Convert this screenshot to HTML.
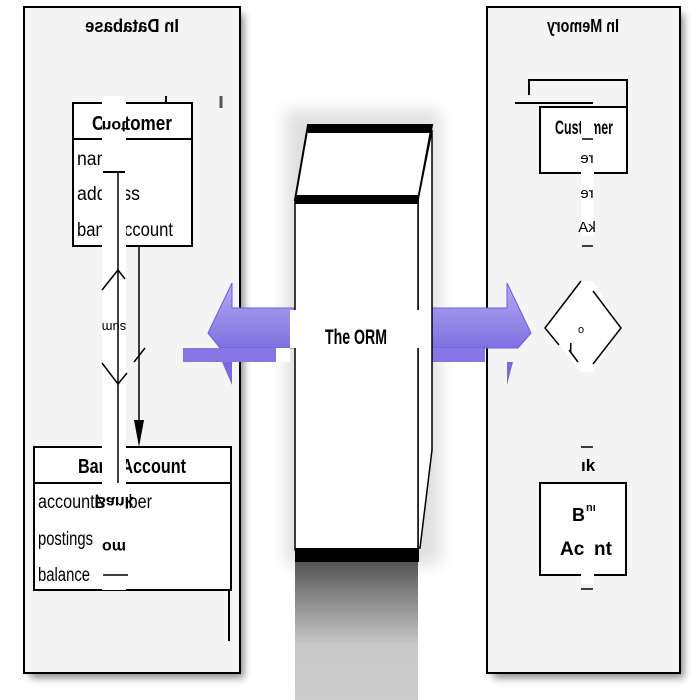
<!DOCTYPE html>
<html><head><meta charset="utf-8"><style>
html,body{margin:0;padding:0;background:#fff;}
svg{display:block;}
text{font-family:"Liberation Sans",Arial,sans-serif;}
</style></head><body>
<svg width="700" height="700" viewBox="0 0 700 700" xmlns="http://www.w3.org/2000/svg">
<defs>
<linearGradient id="sh" x1="0" y1="0" x2="0" y2="1">
<stop offset="0" stop-color="#555"/><stop offset="0.6" stop-color="#c8c8c8"/><stop offset="1" stop-color="#ccc"/>
</linearGradient>
<linearGradient id="ar" x1="0" y1="0" x2="0" y2="1">
<stop offset="0" stop-color="#b4aaf0"/><stop offset="1" stop-color="#8070e0"/>
</linearGradient>
<filter id="ds" x="-10%" y="-10%" width="130%" height="130%"><feGaussianBlur stdDeviation="4"/></filter>
<filter id="ds2" x="-20%" y="-20%" width="140%" height="140%"><feGaussianBlur stdDeviation="8"/></filter>
</defs>

<!-- panel shadows -->
<rect x="30" y="14" width="214" height="664" fill="#000" opacity="0.45" filter="url(#ds)"/>
<rect x="493" y="14" width="191" height="664" fill="#000" opacity="0.45" filter="url(#ds)"/>

<!-- Left panel -->
<rect x="24" y="7" width="216" height="666" fill="#f4f4f4" stroke="#000" stroke-width="2"/>
<text transform="translate(132,32) scale(-1,1)" text-anchor="middle" font-size="18" font-weight="bold" textLength="94" lengthAdjust="spacingAndGlyphs">In Database</text>
<line x1="166" y1="96" x2="166" y2="108" stroke="#000" stroke-width="2"/>
<line x1="221" y1="96" x2="221" y2="108" stroke="#555" stroke-width="3"/>

<!-- Customer box -->
<rect x="73" y="103" width="119" height="143" fill="#fff" stroke="#000" stroke-width="2"/>
<line x1="73" y1="139" x2="192" y2="139" stroke="#000" stroke-width="2"/>
<text x="92" y="130" font-size="20" font-weight="bold" textLength="80" lengthAdjust="spacingAndGlyphs">Customer</text>
<text x="77" y="165" font-size="19" textLength="44" lengthAdjust="spacingAndGlyphs">name</text>
<text x="77" y="200" font-size="19" textLength="63" lengthAdjust="spacingAndGlyphs">address</text>
<text x="77" y="236" font-size="19" textLength="96" lengthAdjust="spacingAndGlyphs">bankAccount</text>

<!-- BankAccount box -->
<rect x="34" y="447" width="197" height="143" fill="#fff" stroke="#000" stroke-width="2"/>
<line x1="34" y1="483" x2="231" y2="483" stroke="#000" stroke-width="2"/>
<line x1="229" y1="590" x2="229" y2="641" stroke="#000" stroke-width="2"/>
<text x="78" y="473" font-size="20" font-weight="bold" textLength="108" lengthAdjust="spacingAndGlyphs">Bank Account</text>
<text x="38" y="508" font-size="19" textLength="114" lengthAdjust="spacingAndGlyphs">accountNumber</text>
<text x="38" y="545" font-size="19" textLength="55" lengthAdjust="spacingAndGlyphs">postings</text>
<text x="38" y="581" font-size="19" textLength="52" lengthAdjust="spacingAndGlyphs">balance</text>

<!-- white strip glitch -->
<rect x="102" y="96" width="24" height="494" fill="#fff"/>
<text transform="translate(114,121) scale(1,-1)" text-anchor="middle" font-size="16" font-weight="bold">not</text>
<line x1="103" y1="172" x2="125" y2="172" stroke="#000" stroke-width="2"/>
<line x1="118" y1="172" x2="118" y2="447" stroke="#000" stroke-width="1.5"/>
<polyline points="102,290 118,270 125,279" fill="none" stroke="#000" stroke-width="1.5"/>
<polyline points="102,363 118,384 127,373" fill="none" stroke="#000" stroke-width="1.5"/>
<text transform="translate(114,323) scale(-1,-1)" text-anchor="middle" font-size="13">sum</text>
<rect x="102" y="483" width="24" height="106" fill="#fff"/>
<line x1="118" y1="447" x2="118" y2="483" stroke="#000" stroke-width="1.5"/>
<text transform="translate(114,497) scale(1,-1)" text-anchor="middle" font-size="16" font-weight="bold">Bank</text>
<text transform="translate(114,542) scale(-1,-1)" text-anchor="middle" font-size="16" font-weight="bold">mo</text>
<line x1="103" y1="575" x2="128" y2="575" stroke="#000" stroke-width="1.5"/>
<line x1="139" y1="246" x2="139" y2="425" stroke="#000" stroke-width="1.5"/>
<polygon points="134,420 144,420 139,447" fill="#000"/>
<line x1="134" y1="362" x2="145" y2="348" stroke="#000" stroke-width="1.5"/>

<!-- Right panel -->
<rect x="487" y="7" width="193" height="666" fill="#f4f4f4" stroke="#000" stroke-width="2"/>
<text transform="translate(583,32) scale(-1,1)" text-anchor="middle" font-size="18" font-weight="bold" textLength="72" lengthAdjust="spacingAndGlyphs">In Memory</text>
<polyline points="529,95 529,80 627,80 627,107" fill="none" stroke="#000" stroke-width="2"/>
<line x1="515" y1="103" x2="593" y2="103" stroke="#000" stroke-width="2"/>
<rect x="540" y="107" width="87" height="66" fill="#fff" stroke="#000" stroke-width="2"/>
<text x="555" y="134" font-size="19" font-weight="bold" textLength="58" lengthAdjust="spacingAndGlyphs">Customer</text>
<rect x="581" y="118" width="13" height="118" fill="#fff"/>
<line x1="582" y1="139" x2="593" y2="139" stroke="#000" stroke-width="1.5"/>
<text transform="translate(587,163) scale(-1,1)" text-anchor="middle" font-size="15">re</text>
<text transform="translate(587,198) scale(-1,1)" text-anchor="middle" font-size="15">re</text>
<text transform="translate(587,232) scale(-1,1)" text-anchor="middle" font-size="15">kA</text>
<line x1="582" y1="246" x2="593" y2="246" stroke="#000" stroke-width="1.5"/>
<!-- diamond -->
<polygon points="545,328 581,281 593,281 621,328 593,372 581,372" fill="#fff"/>
<polyline points="581,281 545,328 559,345" fill="none" stroke="#000" stroke-width="1.5"/>
<polyline points="593,291 621,328 593,364" fill="none" stroke="#000" stroke-width="1.5"/>
<line x1="569" y1="350" x2="578" y2="362" stroke="#000" stroke-width="1.5"/>
<text x="578" y="333" font-size="11">o</text>
<rect x="570" y="343" width="1.5" height="10" fill="#000"/>
<!-- bank account right -->
<line x1="581" y1="447" x2="593" y2="447" stroke="#000" stroke-width="1.5"/>
<text x="581" y="471" font-size="17" font-weight="bold">ık</text>
<rect x="540" y="483" width="86" height="92" fill="#fff" stroke="#000" stroke-width="2"/>
<rect x="581" y="484" width="13" height="100" fill="#fff"/>
<text x="572" y="521" font-size="18" font-weight="bold">B</text>
<text x="586" y="511" font-size="11" font-weight="bold">nı</text>
<text x="560" y="555" font-size="19" font-weight="bold">Ac</text>
<text x="594" y="555" font-size="19" font-weight="bold">nt</text>
<line x1="581" y1="589" x2="593" y2="589" stroke="#000" stroke-width="1.5"/>

<!-- ORM shadow -->
<rect x="285" y="110" width="155" height="455" fill="#000" opacity="0.12" filter="url(#ds2)"/>
<rect x="295" y="562" width="123" height="138" fill="url(#sh)"/>

<!-- Arrows -->
<polygon points="295,308 232,308 232,283 208,333 220,348 295,348" fill="url(#ar)" stroke="#6a5af0" stroke-width="1"/>
<rect x="183" y="348" width="107" height="14" fill="#8576e4"/>
<polygon points="222,362 232,362 232,385" fill="#7a68e0"/>
<rect x="276" y="348" width="14" height="14" fill="#fff"/>
<polygon points="418,308 507,308 507,283 531,333 518,348 418,348" fill="url(#ar)" stroke="#6a5af0" stroke-width="1"/>
<rect x="412" y="348" width="73" height="14" fill="#8576e4"/>
<polygon points="507,362 513,362 507,385" fill="#7a68e0"/>

<!-- ORM box -->
<polygon points="308,125 432,125 418,200 295,200" fill="#fff" stroke="#000" stroke-width="2"/>
<rect x="308" y="125" width="124" height="8" fill="#000"/>
<polygon points="418,200 432,130 432,450 420,548 418,548" fill="#fff" stroke="#000" stroke-width="1.5"/>
<rect x="295" y="200" width="123" height="350" fill="#fff" stroke="#000" stroke-width="1.5"/>
<rect x="295" y="195" width="124" height="9" fill="#000"/>
<rect x="295" y="548" width="124" height="14" fill="#000"/>
<rect x="290" y="310" width="136" height="38" fill="#fff"/>
<text x="356" y="344" text-anchor="middle" font-size="21" font-weight="bold" textLength="62" lengthAdjust="spacingAndGlyphs">The ORM</text>
</svg>
</body></html>
